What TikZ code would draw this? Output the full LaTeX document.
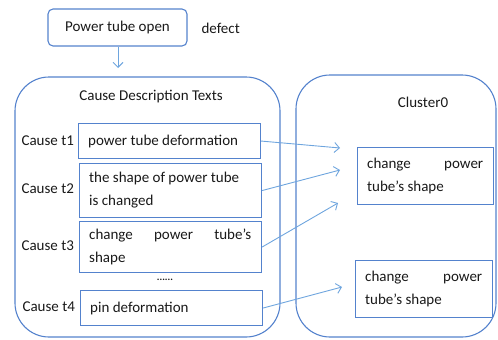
\documentclass[tikz,border=0pt]{standalone}
\usepackage{fontspec}
\setmainfont{Carlito}
\usetikzlibrary{arrows.meta}
\definecolor{boxblue}{RGB}{84,130,205}
\definecolor{arrblue}{RGB}{110,165,222}
\newcommand{\apos}{\char"27\relax}
\tikzset{
  txt/.style={font=\fontsize{15}{23}\selectfont, text=black!90},
  bigbox/.style={draw=boxblue, line width=1.1pt, rounded corners=34pt},
  itembox/.style={draw=boxblue, line width=1.1pt, txt, anchor=north west, inner sep=0pt},
  link/.style={draw=arrblue, line width=0.9pt, -{Straight Barb[length=5pt,width=10pt]}},
}
\newcommand{\ibox}[6]{% name, x1, y1, x2, y2, text
  \node[itembox, minimum width=#4pt-#2pt, minimum height=#5pt-#3pt] (#1) at (#2,#3) {};
  \node[txt, anchor=west, text width=#4pt-#2pt-20pt, align=justify, inner sep=0pt] (#1t) at ([xshift=10pt]#1.west) {#6};
}
\begin{document}
\begin{tikzpicture}[x=1pt,y=-1pt]
\useasboundingbox (0,0) rectangle (498,340);
% top
\node[draw=boxblue, line width=1.1pt, rounded corners=5pt, minimum width=139pt, minimum height=37pt, txt, inner sep=0pt] (top) at (117.5,27.5) {Power tube open};
\node[txt, anchor=west] (defect) at (198,28) {defect};
% outer boxes
\draw[bigbox] (15,77) rectangle (280,337);
\draw[bigbox] (296,75) rectangle (496,337);
\coordinate (lefttop) at (118,77);
\draw[link] (top.south -| lefttop) -- (lefttop |- 0,68);
\node[txt] (cdt) at (151,97) {Cause Description Texts};
\node[txt] (cl) at (423,102) {Cluster0};
% items
\ibox{t1}{78}{123}{260}{158}{power tube deformation}
\ibox{t2}{79}{163}{261}{217}{the shape of power tube\\is changed}
\ibox{t3}{79}{221}{261}{272}{change power tube\apos s shape}
\ibox{t4}{80}{290}{262}{325}{pin deformation}
\ibox{c1}{357}{147}{493}{204}{change power tube\apos s shape}
\ibox{c2}{355}{260}{492}{317}{change power tube\apos s shape}
\node[txt, anchor=west] (l1) at (18,141) {Cause t1};
\node[txt, anchor=west] (l2) at (18,189) {Cause t2};
\node[txt, anchor=west] (l3) at (18,246) {Cause t3};
\node[txt, anchor=west] (l4) at (19,307) {Cause t4};
\node[txt, font=\fontsize{10}{12}\selectfont] (dots) at (165,280) {\textbf{......}};
% arrows
\coordinate (a1) at (340,148);
\coordinate (a2) at (340,170);
\coordinate (a3) at (338,203);
\coordinate (a4) at (342,287);
\draw[link] (t1.east) -- (a1);
\draw[link] (t2.east) -- (a2);
\draw[link] (t3.east) -- (a3);
\draw[link] (t4.east) -- (a4);
\end{tikzpicture}
\end{document}
